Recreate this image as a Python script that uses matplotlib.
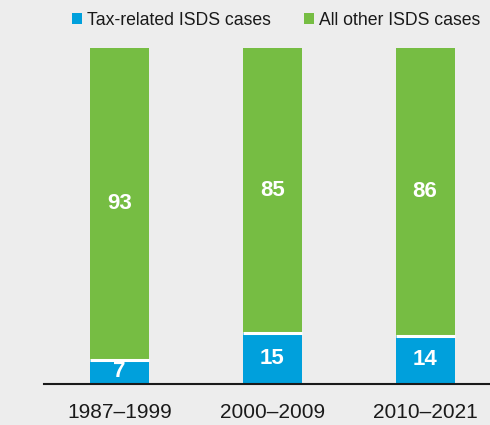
import matplotlib
matplotlib.use("Agg")
import matplotlib.pyplot as plt
from matplotlib.patches import Patch

periods = ["1987–1999", "2000–2009", "2010–2021"]
tax_related = [7, 15, 14]
all_other = [93, 85, 86]
series_names = ["Tax-related ISDS cases", "All other ISDS cases"]

plt.rcParams["font.family"] = ["Liberation Sans", "DejaVu Sans"]

bg = "#ededed"
blue = "#00a0dc"
green = "#76bd43"
ink = "#1a1a1a"

fig = plt.figure(figsize=(4.9, 4.25), dpi=100, facecolor=bg)
ax = fig.add_axes([44/490, (425-383.5)/425, 1-44/490, (383.5-47.5)/425], facecolor=bg)

x = list(range(len(periods)))
w = 0.386
ax.bar(x, tax_related, width=w, color=blue, linewidth=0)
ax.bar(x, all_other, width=w, bottom=tax_related, color=green, linewidth=0)
# white separators between segments
for xi, t in zip(x, tax_related):
    ax.plot([xi - w/2, xi + w/2], [t, t], color="white", lw=2.2, solid_capstyle="butt", zorder=3)

for xi, t, o in zip(x, tax_related, all_other):
    ax.text(xi, t/2, str(t), ha="center", va="center", color="white", fontsize=16, fontweight="bold")
    ax.text(xi, t + o/2, str(o), ha="center", va="center", color="white", fontsize=16, fontweight="bold")

ax.set_xlim(-0.496, 2.425)
ax.set_ylim(0, 100)
for s in ["top", "right", "left"]:
    ax.spines[s].set_visible(False)
ax.spines["bottom"].set_linewidth(1.5)
ax.spines["bottom"].set_color(ink)
ax.set_yticks([])
ax.set_xticks(x)
ax.set_xticklabels(periods, fontsize=15, color=ink)
ax.tick_params(axis="x", length=0, pad=14)

handles = [Patch(facecolor=blue, linewidth=0), Patch(facecolor=green, linewidth=0)]
leg = fig.legend(handles=handles, labels=series_names, loc="upper left",
                 bbox_to_anchor=(72/490, 1 - 12/425), ncol=2, frameon=False, fontsize=12.7,
                 handlelength=0.55, handleheight=0.55, handletextpad=0.3, columnspacing=1.9,
                 borderpad=0, borderaxespad=0)
for t in leg.get_texts():
    t.set_color(ink)

fig.savefig("out.png", dpi=100, facecolor=bg)
